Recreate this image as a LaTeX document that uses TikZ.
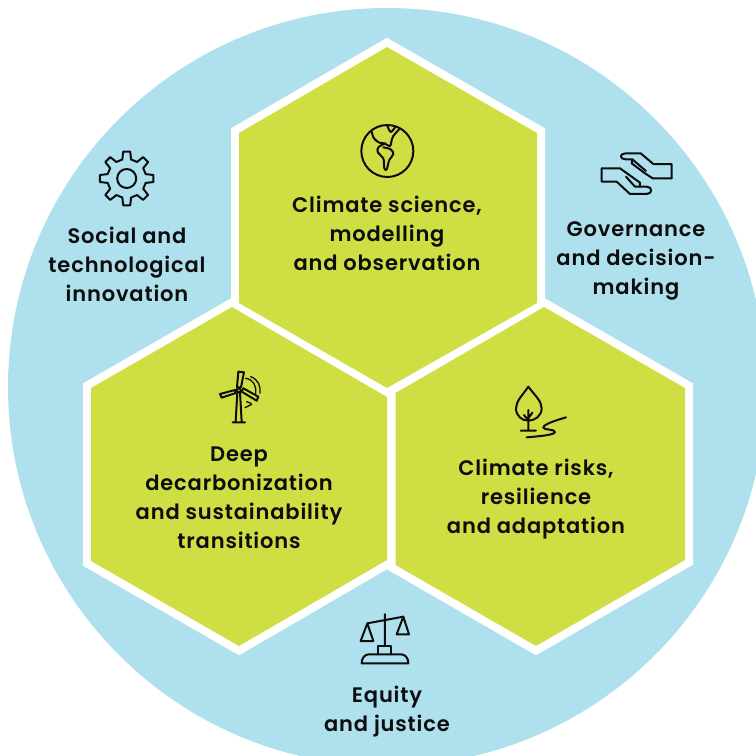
\documentclass[tikz,border=0pt]{standalone}
\usepackage{fontspec}
\setmainfont{Poppins}[BoldFont={Poppins SemiBold},LetterSpace=4]
\definecolor{skyc}{HTML}{AEE0EE}
\definecolor{limec}{HTML}{CFDE43}
\definecolor{inkc}{HTML}{0D0D0D}
\tikzset{
  halo/.style={draw=white,line width=16pt,line join=miter,miter limit=10},
  hexa/.style={fill=limec},
  lab/.style={font=\fontsize{21}{29}\selectfont\bfseries,align=center,text=inkc,inner sep=0pt},
  ico/.style={draw=inkc,line width=2pt,line join=round,line cap=round},
  zoomed/.style={x=0.3333pt,y=-0.3333pt}
}
\begin{document}
\begin{tikzpicture}[x=1pt,y=-1pt]
\useasboundingbox (0,0) rectangle (756,756);
\clip (0,0) rectangle (756,756);
\fill[skyc] (387,387) circle[radius=379pt];
\def\hexT{(387,47) -- (537,133) -- (537,303) -- (387,388) -- (239,303) -- (239,133) -- cycle}
\def\hexL{(232,307) -- (387,397) -- (387,560) -- (239,646) -- (91,561) -- (91,388) -- cycle}
\def\hexR{(544,307) -- (685,388) -- (685,560) -- (536,646) -- (395.5,565) -- (395.5,393) -- cycle}
% hexagons: white halos first, lime fills on top
\path[halo] \hexT;
\path[halo] \hexL;
\path[halo] \hexR;
\path[hexa] \hexT;
\path[hexa] \hexL;
\path[hexa] \hexR;
% labels
\node[lab] (t1) at (387,233.5) {Climate science,\\modelling\\and observation};
\node[lab] (t2) at (127,264.5) {Social and\\technological\\innovation};
\node[lab] (t3) at (636,261) {Governance\\and decision-\\making};
\node[lab] (t4) at (239,498) {Deep\\decarbonization\\and sustainability\\transitions};
\node[lab] (t5) at (536,499.5) {Climate risks,\\resilience\\and adaptation};
\node[lab] (t6) at (387,711.5) {Equity\\and justice};
% globe
\begin{scope}[shift={(340,110)},zoomed]
\draw[ico] (142,123) circle[radius=26pt];
\draw[ico] plot[smooth,tension=.6] coordinates {(95,65) (102,85) (118,98) (132,100) (150,108) (154,95) (160,78) (180,55)};
\draw[ico] plot[smooth,tension=.6] coordinates {(142,47) (152,66) (165,52)};
\draw[ico] plot[smooth,tension=.6] coordinates {(136,100) (115,112) (114,128) (130,145) (133,175) (140,178) (148,150) (160,132) (152,118) (130,112)};
\end{scope}
% gear
\begin{scope}[shift={(126.7,178.5)}]
\draw[ico] (0,0) circle[radius=9.5pt];
\draw[ico] (7.5:27pt) \foreach \a in {0,45,...,315}{
  -- ({\a+13}:19.5pt) -- ({\a+32}:19.5pt) -- ({\a+37.5}:27pt) -- ({\a+52.5}:27pt)
} ;
\end{scope}
% hands
\begin{scope}[shift={(590,140)},zoomed]
\draw[ico] (245,115) -- (245,72) -- (190,72) -- (152,40) -- (107,40) .. controls (88,40) and (88,58) .. (107,58) -- (127,58) -- (168,93);
\draw[ico] (127,58) -- (125,70) -- (165,100) -- (188,115) -- (245,115);
\draw[ico] (35,85) -- (90,85) -- (150,128) -- (150,140);
\draw[ico] (35,85) -- (35,125) -- (80,125) -- (120,162) -- (170,162) .. controls (188,162) and (188,140) .. (170,140) -- (135,140) -- (108,110);
\end{scope}
% turbine
\begin{scope}[shift={(205,360)},zoomed]
\draw[ico] (97,97) -- (92,185) (105,97) -- (110,185) (83,187) -- (120,187);
\draw[ico] (101,91) circle[radius=2pt];
\draw[ico] (100,35) -- (117,37) -- (108,82) -- (96,82) -- cycle;
\draw[ico] (45,102) -- (50,113) -- (92,99) -- (90,90) -- cycle;
\draw[ico] (110,95) -- (155,122) -- (160,110) -- (115,85) -- cycle;
\draw[ico,line width=1.3pt] (122,55) .. controls (145,58) and (155,78) .. (152,100);
\draw[ico,line width=1.3pt] (137,50) .. controls (160,58) and (168,80) .. (165,100);
\draw[ico,line width=1.3pt] (125,125) -- (138,130) (120,143) -- (140,133);
\end{scope}
% tree
\begin{scope}[shift={(500,375)},zoomed]
\draw[ico] (85,35) .. controls (105,62) and (125,78) .. (125,100) .. controls (125,122) and (105,137) .. (85,137) .. controls (65,137) and (48,122) .. (48,100) .. controls (48,78) and (68,60) .. (85,35) -- cycle;
\draw[ico] (85,105) -- (85,166) (72,120) -- (85,136) (97,113) -- (85,130) (62,167) -- (108,167);
\draw[ico] (198,127) .. controls (165,137) and (130,148) .. (130,158) .. controls (130,165) and (165,162) .. (165,171) .. controls (165,180) and (115,184) .. (80,187);
\end{scope}
% scale
\begin{scope}[shift={(345,605)},zoomed]
\draw[ico] (120,27) -- (120,122) (67,55) -- (175,35);
\draw[ico] (67,55) -- (47,108) -- (85,108) -- cycle;
\draw[ico] (175,35) -- (155,88) -- (192,88) -- cycle;
\draw[ico] (100,148) -- (100,122) -- (138,122) -- (138,148);
\draw[ico] (50,175) -- (190,175) .. controls (190,158) and (180,148) .. (168,148) -- (72,148) .. controls (60,148) and (50,158) .. (50,175) -- cycle;
\end{scope}
\end{tikzpicture}
\end{document}
